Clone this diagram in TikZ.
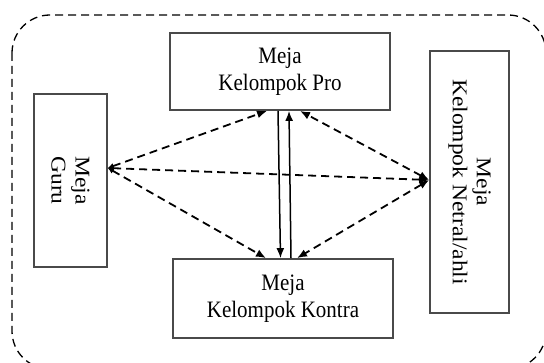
\documentclass[tikz,border=0pt]{standalone}
\usepackage{fontspec}
\setmainfont{Liberation Serif}
\usetikzlibrary{positioning,arrows.meta,calc}
\definecolor{boxline}{HTML}{4A4A4A}

\begin{document}
\begin{tikzpicture}[x=1pt,y=-1pt,
      every node/.style={font=\fontsize{21}{24}\selectfont},
      meja/.style={draw=boxline,line width=1.6pt,align=center,inner sep=0pt},
      link/.style={line width=1.8pt,dash pattern=on 8pt off 5pt},
      talk/.style={line width=1.5pt,-{Latex[length=10pt,width=8pt]}}]
      \useasboundingbox (0,0) rectangle (544,363);
      % Ruang kelas
      \draw[line width=1.3pt,dash pattern=on 8pt off 5pt,rounded corners=38pt]
         (12,15) rectangle (546,369);
      % Meja kelompok
      \node[meja,yscale=1.12,minimum width=220pt,minimum height=68.8pt] (pro) at (280,71.5) {Meja\\Kelompok Pro};
      \node[meja,yscale=1.12,minimum width=220pt,minimum height=70.5pt] (kontra) at (283,298.5) {Meja\\Kelompok Kontra};
      \node[meja,rotate=-90,xscale=1.12,minimum width=154.5pt,minimum height=73pt] (guru) at (70.5,180.5) {Meja\\Guru};
      \node[meja,rotate=-90,xscale=1.12,minimum width=234pt,minimum height=79pt] (netral) at (469.5,182) {Meja\\Kelompok Netral/ahli};
      % Pro <-> Kontra
      \draw[talk] ($(pro.south)+(-2,0)$) -- ($(kontra.north)+(-2.5,0)$);
      \draw[talk] ($(kontra.north)+(8,0)$) -- ($(pro.south)+(9,0)$);
      % Guru
      \coordinate (g) at ($(guru.north)+(0,-12.5)$);
      \draw[link,{Latex[length=6pt,width=6pt]}-{Latex[length=10pt,width=8pt]}] (g) -- ($(pro.south)+(-13,0)$);
      \draw[link,{Latex[length=6pt,width=6pt]}-{Latex[length=10pt,width=8pt]}] (g) -- ($(kontra.north)+(-17,0)$);
      \draw[link,{Latex[length=6pt,width=6pt]}-{Latex[length=10pt,width=8pt]}] (g) -- ($(netral.south)+(0,-2)$);
      % Netral
      \draw[link,{Latex[length=10pt,width=8pt]}-{Latex[length=10pt,width=8pt]}] ($(netral.south)+(0,-2)$) -- ($(pro.south)+(20,0)$);
      \draw[link,{Latex[length=10pt,width=8pt]}-{Latex[length=10pt,width=8pt]}] ($(netral.south)+(0,-2)$) -- ($(kontra.north)+(14,0)$);
\end{tikzpicture}
\end{document}
